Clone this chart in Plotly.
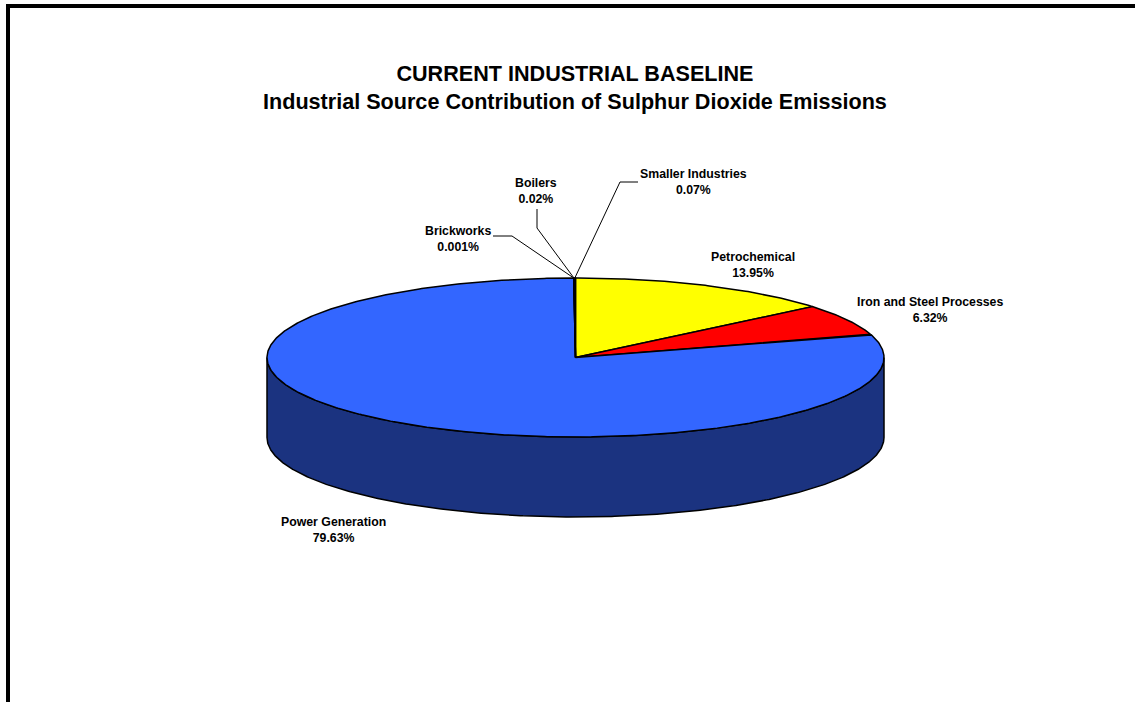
import numpy as np
import plotly.graph_objects as go

# Emission shares by industrial source (percent), in drawing order clockwise from 12 o'clock
categories = ["Petrochemical", "Iron and Steel Processes", "Power Generation",
              "Brickworks", "Boilers", "Smaller Industries"]
shares = [13.95, 6.32, 79.63, 0.001, 0.02, 0.07]

title_lines = ["CURRENT INDUSTRIAL BASELINE",
               "Industrial Source Contribution of Sulphur Dioxide Emissions"]

# Styling
top_colors = ["#FFFF00", "#FF0000", "#3366FF", "#993366", "#FFFFCC", "#CCFFFF"]
side_colors = ["#80801A", "#801A1A", "#1B3380", "#4D1A33", "#808066", "#668080"]

W, H = 1135, 702
CX, CY = 575.5, 357.5      # centre of the top face (px)
RX, RY = 308.5, 79.5       # ellipse radii of the top face (px)
DEPTH = 80                 # thickness of the disc (px)

# Label placement (centre of text block) and leader-line elbows
label_pos = {
    "Petrochemical": (753, 265),
    "Iron and Steel Processes": (930, 310),
    "Power Generation": (333, 530),
    "Brickworks": (458, 238.5),
    "Boilers": (536, 190.5),
    "Smaller Industries": (693, 181.5),
}
leaders = {
    "Brickworks": [(493, 236), (512, 236)],
    "Boilers": [(537, 209), (537, 228)],
    "Smaller Industries": [(638, 182), (620, 182)],
}


def ell(theta_deg, dy=0.0):
    t = np.radians(theta_deg)
    return CX + RX * np.sin(t), CY - RY * np.cos(t) + dy


total = sum(shares)
bounds = np.concatenate([[0], np.cumsum(shares) / total * 360.0])

fig = go.Figure()

# Front wall of the disc (visible between 90 and 270 degrees)
for i, name in enumerate(categories):
    a0, a1 = max(bounds[i], 90.0), min(bounds[i + 1], 270.0)
    if a1 <= a0:
        continue
    th = np.linspace(a0, a1, max(int((a1 - a0) * 2), 2))
    xt, yt = ell(th)
    xb, yb = ell(th[::-1], DEPTH)
    xs = np.concatenate([xt, xb, xt[:1]])
    ys = np.concatenate([yt, yb, yt[:1]])
    fig.add_trace(go.Scatter(x=xs, y=ys, mode="lines", fill="toself",
                             fillcolor=side_colors[i],
                             line=dict(color="black", width=1.5),
                             hoverinfo="skip", showlegend=False))

# Top face slices
for i, name in enumerate(categories):
    a0, a1 = bounds[i], bounds[i + 1]
    th = np.linspace(a0, a1, max(int((a1 - a0) * 2), 2))
    xa, ya = ell(th)
    xs = np.concatenate([[CX], xa, [CX]])
    ys = np.concatenate([[CY], ya, [CY]])
    fig.add_trace(go.Scatter(x=xs, y=ys, mode="lines", fill="toself",
                             fillcolor=top_colors[i],
                             line=dict(color="black", width=1.5),
                             hoverinfo="skip", showlegend=False))

# Leader lines for the small slices
for name, pts in leaders.items():
    i = categories.index(name)
    ex, ey = ell((bounds[i] + bounds[i + 1]) / 2)
    fig.add_trace(go.Scatter(x=[p[0] for p in pts] + [ex],
                             y=[p[1] for p in pts] + [ey],
                             mode="lines", line=dict(color="black", width=1),
                             hoverinfo="skip", showlegend=False))

annotations = []
for name, v in zip(categories, shares):
    x, y = label_pos[name]
    annotations.append(dict(
        x=x, y=y, xref="x", yref="y", showarrow=False,
        xanchor="center", yanchor="middle", align="center",
        text=f"<b>{name}<br>{v:g}%</b>",
        font=dict(family="Arial, Liberation Sans", size=12.3, color="black")))

annotations.append(dict(
    x=575, y=87.5, xref="x", yref="y", showarrow=False,
    xanchor="center", yanchor="middle", align="center",
    text="<b>" + "<br>".join(title_lines) + "</b>",
    font=dict(family="Arial, Liberation Sans", size=21.6, color="black")))

fig.update_layout(
    width=W, height=H,
    margin=dict(l=0, r=0, t=0, b=0),
    paper_bgcolor="white", plot_bgcolor="white",
    xaxis=dict(range=[0, W], visible=False, fixedrange=True),
    yaxis=dict(range=[H, 0], visible=False, fixedrange=True),
    annotations=annotations,
    shapes=[dict(type="rect", xref="x", yref="y", x0=8, y0=6, x1=W + 20, y1=H + 20,
                 line=dict(color="black", width=4), layer="above")],
)

fig.write_html("out.html")
